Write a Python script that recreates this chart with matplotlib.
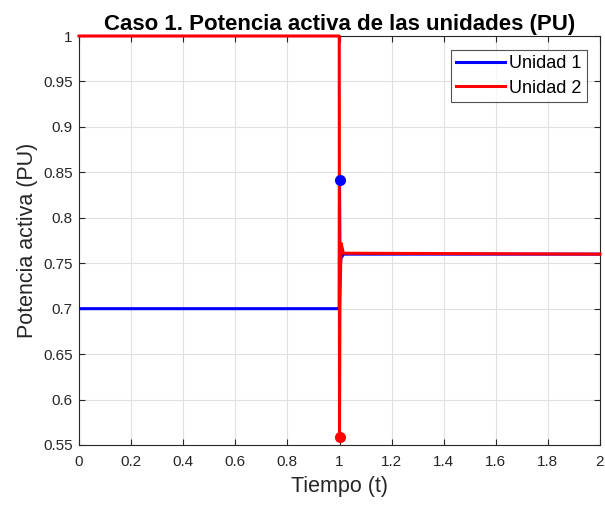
import matplotlib
matplotlib.use("Agg")
import matplotlib.pyplot as plt

plt.rcParams['font.family'] = ['Liberation Sans', 'DejaVu Sans']

t1 = [0.0, 0.9990, 1.0, 1.0020, 1.0050, 1.0150, 2.0]
u1 = [0.70, 0.70, 0.842, 0.740, 0.755, 0.760, 0.760]
t2 = [0.0, 0.9990, 1.0, 1.0015, 1.0060, 1.0150, 2.0]
u2 = [1.00, 1.00, 0.559, 0.700, 0.772, 0.761, 0.760]
mark_t = [1.0]
mark_u1 = [0.842]
mark_u2 = [0.559]

xticks = [0, 0.2, 0.4, 0.6, 0.8, 1, 1.2, 1.4, 1.6, 1.8, 2]
xticklabels = ['0', '0.2', '0.4', '0.6', '0.8', '1', '1.2', '1.4', '1.6', '1.8', '2']
yticks = [0.55, 0.6, 0.65, 0.7, 0.75, 0.8, 0.85, 0.9, 0.95, 1]
yticklabels = ['0.55', '0.6', '0.65', '0.7', '0.75', '0.8', '0.85', '0.9', '0.95', '1']

fig = plt.figure(figsize=(6.05, 5.05), dpi=100)
ax = fig.add_axes([79/605, 60/505, 521/605, 409/505])

ax.plot(t1, u1, color='#0000ff', lw=2.2, label='Unidad 1', zorder=3)
ax.plot(t2, u2, color='#ff0000', lw=2.2, label='Unidad 2', zorder=4, clip_on=False)
ax.plot(mark_t, mark_u1, 'o', color='#0000ff', ms=7, zorder=5)
ax.plot(mark_t, mark_u2, 'o', color='#ff0000', ms=7, zorder=5, clip_on=False)

ax.set_xlim(0, 2)
ax.set_ylim(0.55, 1)
ax.set_xticks(xticks)
ax.set_xticklabels(xticklabels)
ax.set_yticks(yticks)
ax.set_yticklabels(yticklabels)
ax.tick_params(labelsize=11, direction='in', length=4, top=True, right=True,
               color='#262626', labelcolor='#262626')
ax.tick_params(axis='x', pad=7)
ax.tick_params(axis='y', pad=4.5)
ax.grid(True, color='#e0e0e0', lw=0.8)
ax.set_axisbelow(True)
for s in ax.spines.values():
    s.set_color('#262626')
    s.set_linewidth(0.8)

ax.set_xlabel('Tiempo (t)', fontsize=15.5, color='#262626', labelpad=5)
ax.set_ylabel('Potencia activa (PU)', fontsize=15.5, color='#262626', labelpad=4)
ax.set_title('Caso 1. Potencia activa de las unidades (PU)', fontsize=16, fontweight='bold', pad=4)

leg = ax.legend(loc='upper right', fontsize=13, frameon=True, fancybox=False, edgecolor='#262626',
                handlelength=2.67, borderpad=0.3, labelspacing=0.4, handletextpad=0.25,
                borderaxespad=0, bbox_to_anchor=(0.975, 0.966))
leg.get_frame().set_linewidth(0.8)
for line in leg.get_lines():
    line.set_linewidth(2.2)

fig.savefig('out.png', dpi=100)
